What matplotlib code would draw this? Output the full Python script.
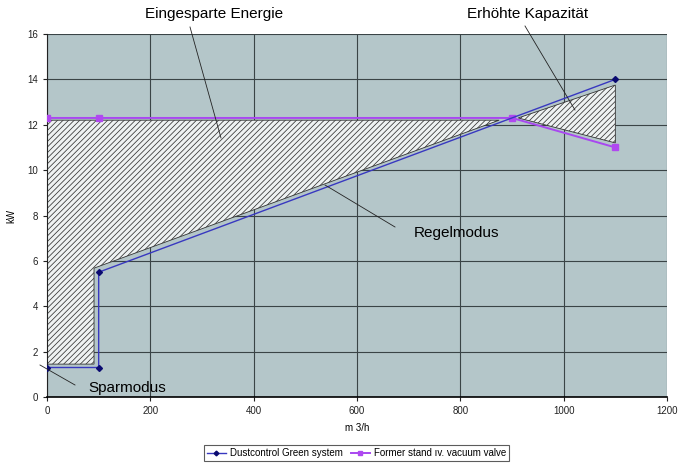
import matplotlib
matplotlib.use("Agg")
import matplotlib.pyplot as plt
from matplotlib.lines import Line2D

plt.rcParams['font.family'] = ['Liberation Sans', 'DejaVu Sans']
plt.rcParams['hatch.linewidth'] = 0.55

# Data
green_x = [0, 100, 100, 1100]
green_y = [1.3, 1.3, 5.5, 14.0]
former_x = [0, 100, 900, 1100]
former_y = [12.3, 12.3, 12.3, 11.0]

# Hatched areas
saved_x = [0, 875, 91, 91, 0]
saved_y = [12.2, 12.2, 5.68, 1.45, 1.45]
cap_x = [912, 1100, 1100]
cap_y = [12.3, 13.75, 11.2]

xticks = [0, 200, 400, 600, 800, 1000, 1200]
yticks = [0, 2, 4, 6, 8, 10, 12, 14, 16]

W, H = 691, 466
fig = plt.figure(figsize=(W / 100, H / 100), dpi=100)
L, R, T, B = 47, 667, 34, 397
ax = fig.add_axes([L / W, 1 - B / H, (R - L) / W, (B - T) / H])
ax.set_facecolor('#b4c6c9')
ax.set_xlim(0, 1200)
ax.set_ylim(0, 16)
ax.set_xticks(xticks)
ax.set_yticks(yticks)
ax.grid(True, color='#3a4446', linewidth=0.8)
ax.set_axisbelow(True)
for s in ['top', 'right']:
    ax.spines[s].set_visible(False)
ax.spines['left'].set_color('#222222')
ax.spines['bottom'].set_color('black')
ax.spines['bottom'].set_linewidth(1.2)
ax.tick_params(labelsize=7, length=3, width=0.8, colors='#222222')

ax.fill(saved_x, saved_y, facecolor='#eef2f2', edgecolor='#333333', hatch='//////', linewidth=0.6, zorder=2)
ax.fill(cap_x, cap_y, facecolor='#eef2f2', edgecolor='#333333', hatch='//////', linewidth=0.6, zorder=2)

ax.plot(green_x, green_y, color='#3838c0', linewidth=1.0, marker='D', markersize=3,
        markerfacecolor='#0a0a70', markeredgecolor='#0a0a70', zorder=4,
        label='Dustcontrol Green system')
ax.plot(former_x, former_y, color='#a848f0', linewidth=1.4, marker='s', markersize=4,
        markerfacecolor='#b048f0', markeredgecolor='#b048f0', zorder=3,
        label='Former stand \u0131v. vacuum valve')

ax.set_xlabel('m 3/h', fontsize=7, labelpad=5)
ax.set_ylabel('kW', fontsize=7, labelpad=8)

leg = fig.legend(loc='center', bbox_to_anchor=((208 + 505) / 2 / W, 1 - 453 / H),
                 ncol=2, fontsize=7, frameon=True, fancybox=False, edgecolor='#333333',
                 handlelength=2.0, handletextpad=0.4, columnspacing=0.8,
                 borderpad=0.3, markerscale=0.8)
leg.get_frame().set_linewidth(0.8)

def fx(px):
    return px / W

def fy(py):
    return 1 - py / H

def leader(p1, p2):
    fig.add_artist(Line2D([fx(p1[0]), fx(p2[0])], [fy(p1[1]), fy(p2[1])],
                          transform=fig.transFigure, color='#222222', linewidth=0.6, zorder=6))

fig.text(fx(214), fy(14), 'Eingesparte Energie', fontsize=11, ha='center', va='center')
leader((190, 27), (221, 138))
fig.text(fx(528), fy(14), 'Erhöhte Kapazität', fontsize=11, ha='center', va='center')
leader((525, 26), (575, 110))
fig.text(fx(414), fy(233), 'Regelmodus', fontsize=11, ha='left', va='center')
leader((325, 185), (395, 227))
fig.text(fx(88), fy(388), 'Sparmodus', fontsize=11, ha='left', va='center')
leader((40, 365), (75, 385))

fig.savefig('out.png', dpi=100)
